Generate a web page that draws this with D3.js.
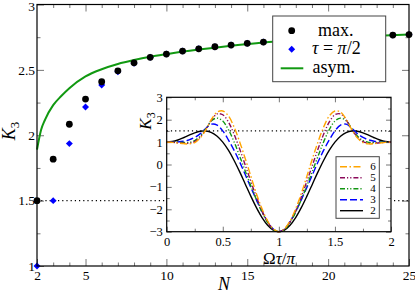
<!DOCTYPE html>
<html>
<head>
<meta charset="utf-8">
<script src="https://cdn.jsdelivr.net/npm/d3@7"></script>
<style>
  body { margin: 0; background: #fff; }
  svg { display: block; }
  svg text { font-family: "Liberation Serif", "Times New Roman", Tinos, "Noto Serif", "DejaVu Serif", serif; }
  .tick line { stroke: #777; }
  .domain { display: none; }
</style>
</head>
<body>
<svg width="415" height="293"></svg>
<script>
// main panel data
let nValues = [2, 3, 4, 5, 6, 7, 8, 9, 10, 11, 12, 13, 14, 15, 16, 17, 18, 19, 20, 21, 22, 23, 24, 25];
let k3Max = [1.5, 1.817, 2.084, 2.277, 2.409, 2.493, 2.554, 2.596, 2.621, 2.644, 2.661, 2.677, 2.690, 2.703, 2.713,
  2.722, 2.730, 2.737, 2.744, 2.750, 2.755, 2.760, 2.766, 2.770];
let k3HalfPi = [1.0, 1.5, 1.936, 2.216, 2.384, 2.485, 2.550, 2.596, 2.621, 2.644, 2.661, 2.677, 2.690, 2.703, 2.713,
  2.722, 2.730, 2.737, 2.744, 2.750, 2.755, 2.760, 2.766, 2.770];
let asymN = [2, 2.25, 2.5, 3, 3.5, 4, 5, 6, 7, 8, 9, 10, 12, 14, 16, 18, 20, 22, 25];
let asymK3 = [1.89, 2.04, 2.12, 2.23, 2.30, 2.36, 2.45, 2.505, 2.545, 2.575, 2.60, 2.62, 2.655, 2.685, 2.71, 2.728, 2.743, 2.755, 2.77];
let classicalBound = 1.5;

// inset data: K3 vs Omega tau / pi for N = 2..6
let omegaTau = [0, 0.05, 0.1, 0.15, 0.2, 0.25, 0.3, 0.35, 0.4, 0.45, 0.5, 0.55, 0.6, 0.65, 0.7, 0.75, 0.8, 0.85, 0.9, 0.95,
  1, 1.05, 1.1, 1.15, 1.2, 1.25, 1.3, 1.35, 1.4, 1.45, 1.5, 1.55, 1.6, 1.65, 1.7, 1.75, 1.8, 1.85, 1.9, 1.95, 2];
let k3N2 = [1, 1.024, 1.093, 1.194, 1.309, 1.414, 1.485, 1.496, 1.427, 1.264, 1.0, 0.638, 0.191, -0.320, -0.867, -1.414, -1.927, -2.370, -2.711, -2.926,
  -3, -2.926, -2.711, -2.370, -1.927, -1.414, -0.867, -0.320, 0.191, 0.638, 1.0, 1.264, 1.427, 1.496, 1.485, 1.414, 1.309, 1.194, 1.093, 1.024, 1];
let k3N3 = [1, 1.00, 1.01, 1.04, 1.10, 1.21, 1.38, 1.62, 1.80, 1.76, 1.50, 1.10, 0.64, 0.12, -0.45, -1.02, -1.58, -2.10, -2.55, -2.88,
  -3, -2.88, -2.55, -2.10, -1.58, -1.02, -0.45, 0.12, 0.64, 1.10, 1.50, 1.76, 1.80, 1.62, 1.38, 1.21, 1.10, 1.04, 1.01, 1.00, 1];
let k3N4 = [1, 1.00, 0.99, 0.98, 0.99, 1.07, 1.27, 1.60, 1.96, 2.07, 1.94, 1.56, 1.02, 0.38, -0.29, -0.95, -1.57, -2.13, -2.59, -2.90,
  -3, -2.90, -2.59, -2.13, -1.57, -0.95, -0.29, 0.38, 1.02, 1.56, 1.94, 2.07, 1.96, 1.60, 1.27, 1.07, 0.99, 0.98, 0.99, 1.00, 1];
let k3N5 = [1, 0.99, 0.97, 0.95, 0.95, 1.02, 1.23, 1.57, 1.99, 2.26, 2.22, 1.90, 1.36, 0.70, -0.02, -0.75, -1.45, -2.07, -2.56, -2.89,
  -3, -2.89, -2.56, -2.07, -1.45, -0.75, -0.02, 0.70, 1.36, 1.90, 2.22, 2.26, 1.99, 1.57, 1.23, 1.02, 0.95, 0.95, 0.97, 0.99, 1];
let k3N6 = [1, 0.99, 0.96, 0.93, 0.92, 0.98, 1.19, 1.56, 2.02, 2.34, 2.39, 2.17, 1.68, 1.02, 0.27, -0.52, -1.30, -1.98, -2.52, -2.87,
  -3, -2.87, -2.52, -1.98, -1.30, -0.52, 0.27, 1.02, 1.68, 2.17, 2.39, 2.34, 2.02, 1.56, 1.19, 0.98, 0.92, 0.93, 0.96, 0.99, 1];

let insetSeries = [
  { label: '6', values: k3N6, color: '#ffa500', dash: '7,2.5,1.5,2.5' },
  { label: '5', values: k3N5, color: '#8b0a5a', dash: '5,2,1.2,2,1.2,2' },
  { label: '4', values: k3N4, color: '#129612', dash: '5,2,1.2,2,1.2,2' },
  { label: '3', values: k3N3, color: '#0000ff', dash: '7,3' },
  { label: '2', values: k3N2, color: '#000', dash: null }
];

let serif = '"Liberation Serif", "Times New Roman", Tinos, "Noto Serif", "DejaVu Serif", serif';
let svg = d3.select('svg');

// ---------- main panel ----------
let x = d3.scaleLinear().domain([2, 25]).range([37, 409]);
let y = d3.scaleLinear().domain([1, 3]).range([266, 4.5]);

let minorN = d3.range(3, 25).filter((d) => d % 5 !== 0);
let minorK = [1.25, 1.75, 2.25, 2.75];

// draw inward ticks, drop d3's own font attributes so the serif font applies
function ticks(g, pos, axis, vals, size, labels, pad) {
  g.append('g')
    .attr('transform', pos)
    .call(axis.tickValues(vals).tickSizeInner(-size).tickSizeOuter(0)
      .tickPadding(pad || 3).tickFormat(labels ? (d) => String(d).replace('-', '\u2212') : ''))
    .attr('font-size', null)
    .attr('font-family', serif);
}

let gMain = svg.append('g').style('font-size', '13.5px');
ticks(gMain, 'translate(0,266)', d3.axisBottom(x), [2, 5, 10, 15, 20, 25], 7, true, 4);
ticks(gMain, 'translate(0,266)', d3.axisBottom(x), minorN, 3.5);
ticks(gMain, 'translate(0,4.5)', d3.axisTop(x), [5, 10, 15, 20], 7);
ticks(gMain, 'translate(0,4.5)', d3.axisTop(x), minorN, 3.5);
ticks(gMain, 'translate(37,0)', d3.axisLeft(y), [1, 1.5, 2, 2.5, 3], 7, true, 2);
ticks(gMain, 'translate(37,0)', d3.axisLeft(y), minorK, 3.5);
ticks(gMain, 'translate(409,0)', d3.axisRight(y), [1.5, 2, 2.5], 7);
ticks(gMain, 'translate(409,0)', d3.axisRight(y), minorK, 3.5);
gMain.selectAll('text').attr('fill', '#000');
// keep the top label inside the picture
gMain.selectAll('.tick text').filter((d) => d === 3).attr('dy', '0.45em');

// classical bound
svg.append('line')
  .attr('x1', x(2)).attr('x2', x(25))
  .attr('y1', y(classicalBound)).attr('y2', y(classicalBound))
  .attr('stroke', '#000').attr('stroke-width', 1.2).attr('stroke-dasharray', '1.2,3');

// asymptotic curve
svg.append('path')
  .datum(asymN.map((n, i) => [n, asymK3[i]]))
  .attr('fill', 'none').attr('stroke', '#119911').attr('stroke-width', 2)
  .attr('d', d3.line().x((d) => x(d[0])).y((d) => y(d[1])).curve(d3.curveMonotoneX));

let diamond = d3.symbol(d3.symbolSquare, 24);
svg.append('g').selectAll('path')
  .data(nValues.map((n, i) => [n, k3HalfPi[i]]))
  .enter().append('path')
  .attr('d', diamond)
  .attr('fill', '#0000ff')
  .attr('transform', (d) => `translate(${x(d[0])},${y(d[1])}) rotate(45)`);

svg.append('g').selectAll('circle')
  .data(nValues.map((n, i) => [n, k3Max[i]]))
  .enter().append('circle')
  .attr('cx', (d) => x(d[0]))
  .attr('cy', (d) => y(d[1]))
  .attr('r', 3.4)
  .attr('fill', '#000');

svg.append('rect')
  .attr('x', 37).attr('y', 4.5).attr('width', 372).attr('height', 261.5)
  .attr('fill', 'none').attr('stroke', '#000').attr('stroke-width', 1.2);

// axis titles
svg.append('text')
  .attr('transform', 'translate(15,131) rotate(-90)')
  .attr('text-anchor', 'middle')
  .style('font-size', '18px')
  .html('<tspan font-style="italic">K</tspan><tspan font-size="13px" dy="4">3</tspan>');
svg.append('text')
  .attr('x', 224).attr('y', 290)
  .attr('text-anchor', 'middle')
  .style('font-size', '18px').style('font-style', 'italic')
  .text('N');

// main legend
let leg = svg.append('g');
leg.append('rect')
  .attr('x', 272.7).attr('y', 16).attr('width', 113).attr('height', 65.7)
  .attr('fill', '#fff').attr('stroke', '#444').attr('stroke-width', 1);
leg.append('circle').attr('cx', 291.7).attr('cy', 30.7).attr('r', 3.4).attr('fill', '#000');
leg.append('path').attr('d', diamond).attr('fill', '#0000ff').attr('transform', 'translate(291.7,49.3) rotate(45)');
leg.append('line').attr('x1', 280.7).attr('x2', 303.3).attr('y1', 68.3).attr('y2', 68.3)
  .attr('stroke', '#119911').attr('stroke-width', 2);
leg.append('text').attr('x', 318).attr('y', 35.5).style('font-size', '18px').text('max.');
leg.append('text').attr('x', 312).attr('y', 54).style('font-size', '18px')
  .html('<tspan font-style="italic">τ</tspan> = <tspan font-style="italic">π</tspan>/2');
leg.append('text').attr('x', 312.5).attr('y', 72.5).style('font-size', '18px').text('asym.');

// ---------- inset ----------
let xi = d3.scaleLinear().domain([0, 2]).range([166.7, 391]);
let yi = d3.scaleLinear().domain([-3, 3]).range([231.7, 97.3]);

svg.append('rect')
  .attr('x', 166.7).attr('y', 97.3).attr('width', 224.3).attr('height', 134.4)
  .attr('fill', '#fff');

let gIn = svg.append('g').style('font-size', '12.5px');
let kMajor = [-3, -2, -1, 0, 1, 2, 3];
let kMinor = [-2.5, -1.5, -0.5, 0.5, 1.5, 2.5];
ticks(gIn, 'translate(0,231.7)', d3.axisBottom(xi), [0, 0.5, 1, 1.5, 2], 5, true, 5);
ticks(gIn, 'translate(0,231.7)', d3.axisBottom(xi), [0.25, 0.75, 1.25, 1.75], 3);
ticks(gIn, 'translate(0,97.3)', d3.axisTop(xi), [0.5, 1, 1.5], 5);
ticks(gIn, 'translate(0,97.3)', d3.axisTop(xi), [0.25, 0.75, 1.25, 1.75], 3);
ticks(gIn, 'translate(166.7,0)', d3.axisLeft(yi), kMajor, 5, true, 4);
ticks(gIn, 'translate(166.7,0)', d3.axisLeft(yi), kMinor, 3);
ticks(gIn, 'translate(391,0)', d3.axisRight(yi), kMajor, 5);
ticks(gIn, 'translate(391,0)', d3.axisRight(yi), kMinor, 3);
gIn.selectAll('text').attr('fill', '#000');

svg.append('line')
  .attr('x1', xi(0)).attr('x2', xi(2))
  .attr('y1', yi(classicalBound)).attr('y2', yi(classicalBound))
  .attr('stroke', '#000').attr('stroke-width', 1.2).attr('stroke-dasharray', '1.2,3');

let insetLine = d3.line()
  .x((d, i) => xi(omegaTau[i]))
  .y((d) => yi(d))
  .curve(d3.curveCatmullRom);

svg.append('g').selectAll('path')
  .data(insetSeries.slice().reverse())
  .enter().append('path')
  .attr('fill', 'none')
  .attr('stroke', (d) => d.color)
  .attr('stroke-width', 1.4)
  .attr('stroke-dasharray', (d) => d.dash)
  .attr('d', (d) => insetLine(d.values));

svg.append('rect')
  .attr('x', 166.7).attr('y', 97.3).attr('width', 224.3).attr('height', 134.4)
  .attr('fill', 'none').attr('stroke', '#000').attr('stroke-width', 1.2);

svg.append('text')
  .attr('transform', 'translate(151,121) rotate(-90)')
  .attr('text-anchor', 'middle')
  .style('font-size', '17px')
  .html('<tspan font-style="italic">K</tspan><tspan font-size="12px" dy="4">3</tspan>');
svg.append('text')
  .attr('x', 279).attr('y', 264)
  .attr('text-anchor', 'middle')
  .style('font-size', '17px')
  .html('Ω<tspan font-style="italic">τ</tspan>/<tspan font-style="italic">π</tspan>');

// inset legend
let legIn = svg.append('g');
legIn.append('rect')
  .attr('x', 336).attr('y', 156.7).attr('width', 43.3).attr('height', 61.6)
  .attr('fill', '#fff').attr('stroke', '#444').attr('stroke-width', 1);
let rowY = d3.scaleLinear().domain([0, 4]).range([166.7, 210.7]);
let rows = legIn.selectAll('g.row')
  .data(insetSeries)
  .enter().append('g').attr('class', 'row')
  .attr('transform', (d, i) => `translate(0,${rowY(i)})`);
rows.append('line')
  .attr('x1', 340).attr('x2', 363)
  .attr('stroke', (d) => d.color).attr('stroke-width', 1.4)
  .attr('stroke-dasharray', (d) => d.dash);
rows.append('text')
  .attr('x', 373).attr('y', 3.5)
  .attr('text-anchor', 'middle')
  .style('font-size', '11px')
  .text((d) => d.label);

svg.selectAll('text').attr('font-family', serif);
</script>
</body>
</html>
